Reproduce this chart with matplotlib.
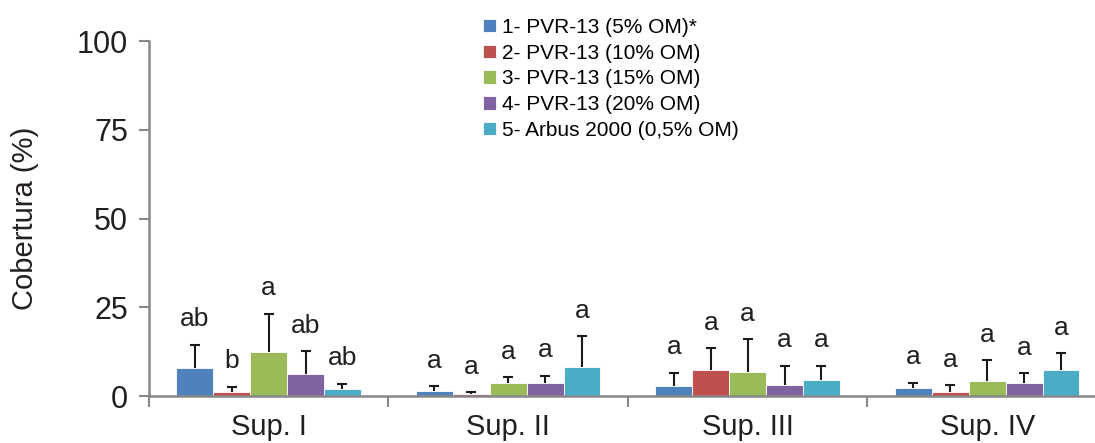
import numpy as np
from matplotlib import pyplot as plt

plt.rcParams["font.family"] = ["Liberation Sans", "DejaVu Sans"]

groups = ["Sup. I", "Sup. II", "Sup. III", "Sup. IV"]
series = ["1- PVR-13 (5% OM)*", "2- PVR-13 (10% OM)", "3- PVR-13 (15% OM)",
	"4- PVR-13 (20% OM)", "5- Arbus 2000 (0,5% OM)"]
colors = ["#4F81BD", "#C0504D", "#9BBB59", "#8064A2", "#4BACC6"]

# mean cover per series, one value per group
means = [
	[7.8, 1.4, 2.9, 2.2],
	[1.0, 0.5, 7.3, 1.2],
	[12.5, 3.7, 6.8, 4.2],
	[6.1, 3.6, 3.1, 3.8],
	[1.9, 8.2, 4.6, 7.4],
]
errs = [
	[6.6, 1.4, 3.7, 1.6],
	[1.6, 0.5, 6.1, 1.9],
	[10.7, 1.6, 9.2, 5.9],
	[6.5, 2.1, 5.4, 2.7],
	[1.6, 8.6, 4.0, 4.7],
]
letters = [
	["ab", "a", "a", "a"],
	["b", "a", "a", "a"],
	["a", "a", "a", "a"],
	["ab", "a", "a", "a"],
	["ab", "a", "a", "a"],
]

fig = plt.figure(figsize=(10.95, 4.43), dpi=100)
ax = fig.add_axes([0.136, 0.106, 0.864, 0.801])

x = np.arange(len(groups))
w = 0.154
for i in range(len(series)):
	xs = x + (i - 2) * w
	ax.bar(xs, means[i], width=w, color=colors[i], edgecolor="white", linewidth=0.6, label=series[i], zorder=2)
	eb = ax.errorbar(xs, means[i], yerr=[np.zeros(len(groups)), errs[i]], fmt="none", ecolor="#1a1a1a",
		elinewidth=1.5, capsize=3.5, capthick=1.5, zorder=3)
	eb[1][0].set_visible(False)  # only upper cap
	for j in range(len(groups)):
		ax.text(xs[j], means[i][j] + errs[i][j] + 5.2, letters[i][j], ha="center", va="baseline",
			fontsize=19, color="#231f20")

ax.set_ylim(0, 100)
ax.set_xlim(-0.5, 3.45)
ax.set_yticks([0, 25, 50, 75, 100])
ax.tick_params(axis="y", labelsize=22, length=7, width=1.5, color="#888888", direction="out", pad=8, labelcolor="#231f20")
ax.set_xticks(x)
ax.set_xticklabels(groups)
ax.set_xticks([-0.5, 0.5, 1.5, 2.5], minor=True)
ax.tick_params(axis="x", which="major", length=0, labelsize=21, pad=12, labelcolor="#231f20")
ax.tick_params(axis="x", which="minor", length=8, width=1.5, color="#888888", direction="out")
for s in ["top", "right"]:
	ax.spines[s].set_visible(False)
for s in ["left", "bottom"]:
	ax.spines[s].set_color("#888888")
	ax.spines[s].set_linewidth(1.8)
ax.set_ylabel("Cobertura (%)", fontsize=21, color="#231f20")
ax.yaxis.set_label_coords(-0.116, 0.5)

ax.legend(loc="upper left", bbox_to_anchor=(0.428, 0.993), bbox_transform=fig.transFigure, frameon=False,
	fontsize=15, handlelength=0.6, handleheight=0.6, handletextpad=0.3, labelspacing=0.33, borderpad=0.2)

fig.savefig("out.png", dpi=100)
